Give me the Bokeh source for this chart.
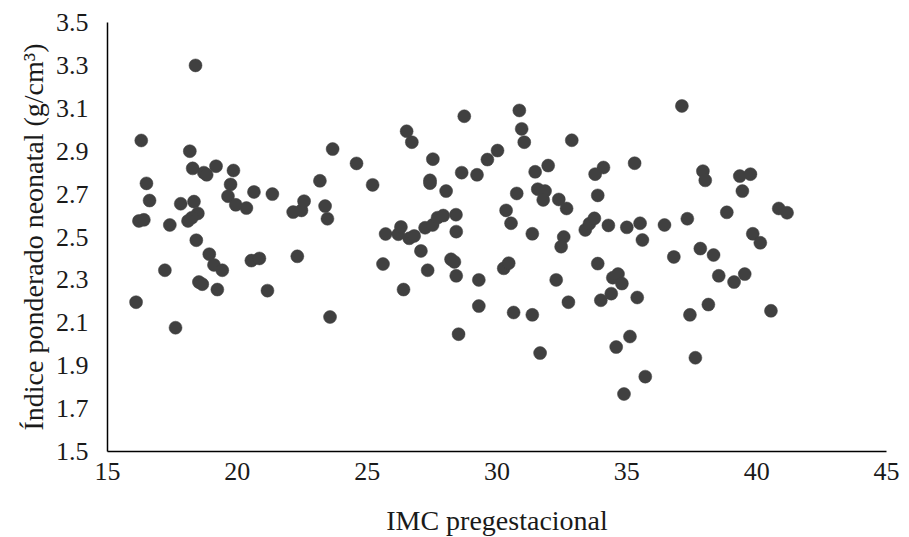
from bokeh.plotting import figure
from bokeh.models import Range1d, FixedTicker, ColumnDataSource
from bokeh.embed import file_html
from bokeh.resources import INLINE

imc = [16.10, 16.30, 16.21, 16.40, 16.50, 16.62, 17.21, 17.40, 17.62, 17.82,
       18.17, 18.28, 18.39, 18.33, 18.42, 18.48, 18.25, 18.10, 18.52, 18.65,
       18.71, 18.82, 18.92, 19.10, 19.18, 19.23, 19.42, 19.64, 19.74, 19.85,
       19.94, 20.35, 20.54, 20.85, 20.64, 21.16, 21.35, 22.15, 22.47, 22.31,
       22.57, 23.18, 23.38, 23.47, 23.57, 23.67, 24.59, 25.21, 25.61, 25.71,
       26.20, 26.30, 26.40, 26.52, 26.62, 26.81, 26.72, 27.07, 27.23, 27.33,
       27.42, 27.42, 27.52, 27.53, 27.71, 27.93, 28.04, 28.23, 28.36, 28.42,
       28.43, 28.43, 28.52, 28.64, 28.74, 29.23, 29.30, 29.30, 29.63, 30.02,
       30.26, 30.45, 30.35, 30.54, 30.64, 30.76, 30.86, 30.95, 31.05, 31.36,
       31.36, 31.47, 31.57, 31.85, 31.78, 31.66, 31.97, 32.28, 32.38, 32.68,
       32.57, 32.47, 32.75, 32.88, 33.40, 33.56, 33.75, 33.78, 33.88, 33.88,
       34.00, 34.10, 34.29, 34.40, 34.46, 34.66, 34.81, 34.59, 34.89, 35.00,
       35.12, 35.30, 35.40, 35.51, 35.60, 35.71, 36.45, 36.81, 37.12, 37.33,
       37.43, 37.64, 37.83, 37.93, 38.02, 38.14, 38.34, 38.54, 38.85, 39.13,
       39.35, 39.45, 39.54, 39.76, 39.85, 40.14, 40.55, 40.85, 41.17]

indice = [2.196, 2.95, 2.575, 2.58, 2.75, 2.67, 2.345, 2.556, 2.077, 2.655,
          2.90, 2.82, 3.30, 2.665, 2.485, 2.61, 2.59, 2.575, 2.29, 2.28,
          2.80, 2.79, 2.42, 2.37, 2.83, 2.255, 2.345, 2.69, 2.745, 2.81,
          2.65, 2.635, 2.39, 2.40, 2.71, 2.25, 2.70, 2.616, 2.624, 2.41,
          2.667, 2.762, 2.644, 2.585, 2.127, 2.91, 2.843, 2.743, 2.374, 2.514,
          2.513, 2.547, 2.255, 2.993, 2.494, 2.505, 2.942, 2.435, 2.543, 2.345,
          2.764, 2.751, 2.556, 2.863, 2.59, 2.60, 2.714, 2.396, 2.384, 2.604,
          2.525, 2.319, 2.047, 2.80, 3.063, 2.79, 2.30, 2.178, 2.861, 2.903,
          2.354, 2.378, 2.624, 2.564, 2.148, 2.703, 3.09, 3.004, 2.942, 2.515,
          2.137, 2.804, 2.723, 2.714, 2.673, 1.959, 2.833, 2.30, 2.675, 2.633,
          2.50, 2.455, 2.196, 2.951, 2.533, 2.562, 2.587, 2.793, 2.694, 2.376,
          2.205, 2.824, 2.554, 2.236, 2.31, 2.327, 2.283, 1.987, 1.768, 2.545,
          2.036, 2.844, 2.218, 2.564, 2.486, 1.849, 2.556, 2.407, 3.111, 2.585,
          2.137, 1.937, 2.446, 2.807, 2.764, 2.185, 2.416, 2.319, 2.615, 2.29,
          2.784, 2.714, 2.327, 2.793, 2.515, 2.473, 2.156, 2.633, 2.613]

x_ticks = [15, 20, 25, 30, 35, 40, 45]
y_ticks = [1.5, 1.7, 1.9, 2.1, 2.3, 2.5, 2.7, 2.9, 3.1, 3.3, 3.5]

FONT = "Liberation Serif"

p = figure(frame_width=779, frame_height=429,
           min_border_left=107, min_border_right=15,
           min_border_top=22, min_border_bottom=78,
           x_range=Range1d(15, 45), y_range=Range1d(1.5, 3.5),
           output_backend="svg", toolbar_location=None,
           background_fill_color="white", border_fill_color="white")
p.outline_line_color = None
p.grid.grid_line_color = None

src = ColumnDataSource(dict(x=imc, y=indice))
p.scatter("x", "y", source=src, size=13, fill_color="#404040",
          line_color="#404040", line_width=0.5)

for ax, ticks in ((p.xaxis[0], x_ticks), (p.yaxis[0], y_ticks)):
    ax.ticker = FixedTicker(ticks=ticks)
    ax.major_tick_line_color = None
    ax.minor_tick_line_color = None
    ax.major_tick_out = 0
    ax.major_tick_in = 0
    ax.axis_line_color = "black"
    ax.axis_line_width = 1.5
    ax.major_label_text_font = FONT
    ax.major_label_text_font_size = "26px"
    ax.major_label_text_color = "#1a1a1a"
    ax.axis_label_text_font = FONT
    ax.axis_label_text_font_size = "28px"
    ax.axis_label_text_font_style = "normal"
    ax.axis_label_text_color = "#1a1a1a"

p.xaxis.axis_label = "IMC pregestacional"
p.yaxis.axis_label = "Índice ponderado neonatal (g/cm³)"
p.xaxis.major_label_standoff = 11
p.xaxis.axis_label_standoff = 22
p.yaxis.major_label_standoff = 19
p.yaxis.axis_label_standoff = 4

open("out.html", "w").write(file_html(p, INLINE))
